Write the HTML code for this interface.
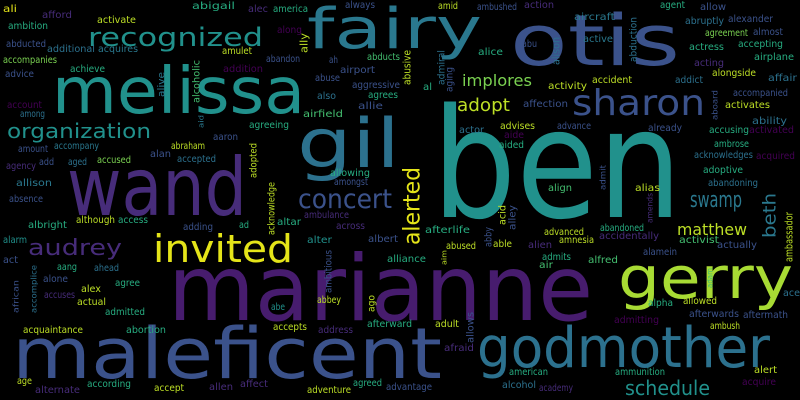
<!DOCTYPE html>
<html><head><meta charset="utf-8"><style>
html,body{margin:0;padding:0;background:#000;}
svg{display:block;}
text{font-family:"DejaVu Sans","Liberation Sans",sans-serif;}
</style></head><body>
<svg id="cloud" width="800" height="400" viewBox="0 0 800 400" xmlns="http://www.w3.org/2000/svg">
<rect width="800" height="400" fill="#000"/>
</svg>
<script>
const C={P:"#440154",P2:"#472c7a",MP:"#471c6e",B1:"#3b528b",B2:"#2c718e",T1:"#2a788e",T2:"#21918c",G1:"#27ad81",G2:"#44bf70",G3:"#7ad151",Y1:"#bddf26",Y:"#e4e419",GE:"#a8db34"};
// horizontal words: text, x-left, x-right, baseline, font size, colour
const hWords=[
["ben",432,682,217,152,"T2"],["marianne",168,593,320,91,"MP"],["maleficent",12,442,378,70,"B1"],
["wand",67,247,215,80,"P2"],["godmother",477,770,367,56,"B2"],["gerry",618,793,298,58,"GE"],
["melissa",52,305,113,64,"T2"],["gil",297,400,167,68,"B2"],["fairy",307,482,48,56,"T1"],
["otis",510,680,65,70,"B1"],["sharon",572,705,115,36,"B1"],["recognized",88,263,46,26,"T2"],
["organization",7,151,138,20,"T2"],["concert",298,392,208,27,"B1"],["invited",153,293,262,38,"Y"],
["audrey",28,122,255,22,"P2"],["swamp",690,742,207,22,"T1"],["schedule",625,710,395,20,"T2"],
["matthew",677,747,235,16,"Y1"],["implores",462,532,86,16,"G3"],["adopt",457,510,111,18,"Y1"],
["ali",3,17,12,10,"Y"],["afford",42,72,18,10,"P2"],["activate",97,136,23,10,"Y1"],["ambition",8,48,29,10,"G1"],
["abducted",6,46,47,10,"B1"],["additional",47,95,52,10,"B2"],["acquires",98,138,52,10,"T1"],
["accompanies",3,57,63,10,"G3"],["achieve",70,105,72,10,"G1"],["advice",5,34,77,10,"B1"],
["account",7,42,108,10,"P"],["among",20,45,117,10,"B2"],["amount",18,48,152,10,"B1"],
["accompany",54,99,149,10,"T1"],["abraham",171,205,149,10,"Y1"],["alan",150,171,157,10,"B1"],
["accepted",177,216,162,10,"B2"],["agency",6,36,169,10,"P2"],["add",39,54,165,10,"B1"],
["aged",68,87,165,10,"B2"],["accused",97,131,163,10,"G3"],["allison",16,52,186,10,"T1"],
["absence",9,43,202,10,"B1"],["abigail",192,235,9,10,"G1"],["alec",248,268,12,10,"P2"],
["america",273,308,12,10,"G1"],["always",345,375,8,10,"B1"],["along",277,302,33,10,"P"],
["amulet",222,252,54,10,"Y1"],["abandon",266,300,62,10,"B1"],["ah",329,338,63,10,"B1"],
["abducts",367,400,60,10,"G2"],["addition",223,263,72,10,"P"],["airport",340,375,73,10,"B1"],
["abuse",315,340,81,10,"B1"],["aggressive",352,400,88,10,"B1"],["also",317,336,99,10,"B2"],
["agrees",368,398,98,10,"G1"],["allie",358,383,109,10,"B1"],["airfield",303,343,117,10,"G2"],
["agreeing",249,289,128,10,"G1"],["aaron",213,238,140,10,"B1"],["allowing",330,370,176,10,"G1"],
["amongst",334,368,185,10,"B1"],["amid",438,458,9,10,"Y1"],["ambushed",477,517,10,10,"B1"],
["action",524,554,8,10,"P2"],["aircraft",574,615,20,10,"T1"],["abu",522,537,47,10,"B1"],
["active",583,613,42,10,"T1"],["alice",478,503,55,10,"G1"],["al",423,432,90,10,"G1"],
["activity",548,587,89,10,"Y1"],["accident",592,632,83,10,"Y1"],["affection",523,568,107,10,"B1"],
["actor",459,484,133,10,"B2"],["advises",500,535,129,10,"Y1"],["aide",504,524,138,10,"P"],
["aided",499,524,148,10,"G1"],["advance",557,591,129,10,"B1"],["align",548,572,191,10,"G2"],
["alias",635,660,191,10,"Y1"],["agent",660,685,8,10,"G1"],["allow",700,726,10,10,"B1"],
["abruptly",685,724,24,10,"B2"],["alexander",728,773,22,10,"B1"],["agreement",705,748,36,10,"G3"],
["almost",753,783,35,10,"B1"],["actress",689,724,50,10,"G1"],["accepting",738,783,47,10,"G1"],
["airplane",754,794,60,10,"G1"],["acting",694,724,66,10,"P2"],["alongside",712,756,76,10,"Y1"],
["addict",675,703,83,10,"B2"],["affair",768,797,81,10,"B2"],["accompanied",733,788,96,10,"B1"],
["activates",725,770,108,10,"Y1"],["ability",752,787,124,10,"B2"],["already",648,682,131,10,"B1"],
["accusing",709,749,133,10,"G1"],["activated",749,794,133,10,"P"],["ambrose",714,749,147,10,"G1"],
["acknowledges",694,753,158,10,"B2"],["acquired",756,795,159,10,"P"],["adoptive",703,743,173,10,"G1"],
["abandoning",708,758,186,10,"B2"],["actually",717,757,248,10,"B1"],["activist",679,719,243,10,"G2"],
["abandoned",600,644,231,10,"G1"],["accidentally",599,659,239,10,"P2"],["alamein",643,677,255,10,"B1"],
["alfred",588,618,263,10,"G2"],["ace",783,800,296,10,"B2"],["alpha",648,673,306,10,"G1"],
["allowed",683,717,304,10,"Y1"],["afterwards",689,739,317,10,"B1"],["aftermath",743,788,318,10,"B1"],
["admitting",614,659,323,10,"P"],["ambush",710,740,329,10,"Y1"],["alert",754,777,373,10,"Y1"],
["ammunition",615,665,375,10,"G1"],["acquire",742,776,385,10,"P"],["afterlife",425,470,233,10,"G1"],
["advanced",544,584,235,10,"Y1"],["able",493,512,247,10,"Y1"],["abused",446,476,249,10,"Y1"],
["alien",528,552,248,10,"P2"],["amnesia",559,594,243,10,"Y1"],["alliance",387,426,262,10,"G1"],
["admits",542,571,260,10,"G1"],["air",539,553,268,10,"G2"],["adult",435,459,327,10,"Y1"],
["afraid",444,474,351,10,"P2"],["advantage",386,432,390,10,"B1"],["american",509,548,375,10,"G1"],
["alcohol",502,536,388,10,"B2"],["academy",539,573,391,10,"P2"],["afterward",367,412,327,10,"G1"],
["albright",28,67,228,10,"G1"],["although",76,115,223,10,"Y1"],["access",118,148,223,10,"G1"],
["adding",183,213,230,10,"B1"],["alarm",3,27,243,10,"T2"],["act",3,18,263,10,"B1"],
["aang",57,77,270,10,"G1"],["ahead",94,119,271,10,"B2"],["alone",43,68,282,10,"B1"],
["agree",115,140,286,10,"G1"],["alex",81,101,292,10,"Y1"],["accuses",44,75,298,10,"P2"],
["actual",77,106,305,10,"Y1"],["admitted",105,145,315,10,"G1"],["acquaintance",23,83,333,10,"Y1"],
["abortion",126,166,333,10,"G1"],["age",17,32,384,10,"Y1"],["according",87,131,387,10,"G1"],
["alternate",35,80,393,10,"P2"],["accept",154,184,391,10,"Y1"],["ad",239,249,228,10,"G1"],
["altar",277,301,225,10,"G1"],["ambulance",304,349,218,10,"P2"],["across",336,365,229,10,"P2"],
["alter",307,332,243,10,"T2"],["albert",368,398,242,10,"B1"],["abbey",317,341,303,10,"Y1"],
["abe",271,285,310,10,"T2"],["accepts",273,307,330,10,"Y1"],["address",318,353,333,10,"P2"],
["allen",209,233,390,10,"P2"],["affect",240,268,387,10,"P2"],["adventure",307,351,393,10,"Y1"],
["agreed",353,382,386,10,"G1"]
];
// vertical words (read bottom to top): text, x-left, x-right, y-top, y-bottom, colour
const vWords=[
["alerted",403,420,167,245,"Y"],["beth",763,776,193,238,"T1"],["alive",158,165,72,97,"T1"],
["alcoholic",193,200,60,103,"G2"],["aid",199,204,115,128,"T1"],["ally",300,308,33,53,"Y1"],
["adopted",250,257,143,178,"Y1"],["acknowledge",268,275,182,235,"Y1"],["alison",552,560,37,65,"B2"],
["abduction",630,637,17,62,"B2"],["admiral",438,445,50,85,"B2"],["aging",446,453,67,92,"B1"],
["abusive",403,411,50,85,"Y1"],["aboard",712,718,90,120,"B1"],["admit",600,606,165,190,"B1"],
["amends",647,653,193,223,"P2"],["ambassador",785,793,212,262,"Y1"],["adam",707,713,268,288,"G2"],
["acid",499,506,205,225,"Y1"],["alley",509,516,205,230,"B1"],["abby",485,492,227,247,"B1"],
["aim",442,447,250,265,"Y1"],["allows",467,474,312,343,"B1"],["african",13,19,280,313,"B1"],
["accomplice",31,37,265,313,"B2"],["ambitious",325,332,250,293,"B1"],["ago",368,375,295,312,"Y1"]
];
const svg=document.getElementById('cloud');
const NS="http://www.w3.org/2000/svg";
hWords.forEach(w=>{
  const t=document.createElementNS(NS,'text');
  t.setAttribute('x',w[1]);t.setAttribute('y',w[3]);
  t.setAttribute('font-size',w[4]);t.setAttribute('fill',C[w[5]]);
  t.setAttribute('textLength',w[2]-w[1]);t.setAttribute('lengthAdjust','spacingAndGlyphs');
  t.textContent=w[0];
  
  
  svg.appendChild(t);
});
vWords.forEach(w=>{
  const fs=(w[2]-w[1])/0.74;
  const bx=w[2]-0.5, by=w[4];
  const t=document.createElementNS(NS,'text');
  t.setAttribute('x',0);t.setAttribute('y',0);
  t.setAttribute('transform','translate('+bx+','+by+') rotate(-90)');
  t.setAttribute('font-size',fs.toFixed(1));t.setAttribute('fill',C[w[5]]);
  t.setAttribute('textLength',w[4]-w[3]);t.setAttribute('lengthAdjust','spacingAndGlyphs');
  t.textContent=w[0];
  
  
  svg.appendChild(t);
});
</script>
</body></html>
